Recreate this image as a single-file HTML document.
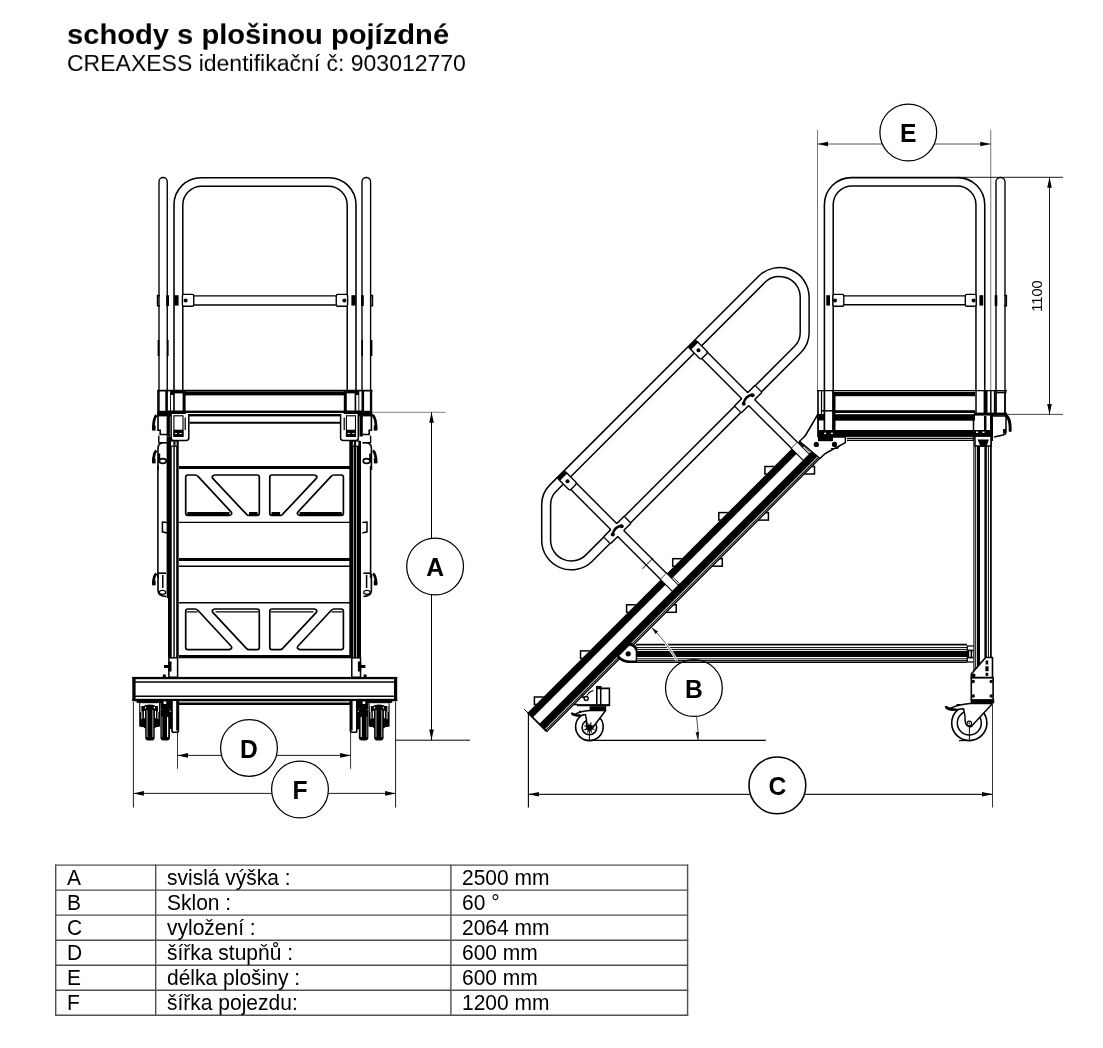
<!DOCTYPE html>
<html lang="cs"><head><meta charset="utf-8"><title>schody s plošinou pojízdné</title>
<style>
html,body{margin:0;padding:0;background:#fff;}
body{width:1103px;height:1048px;position:relative;overflow:hidden;font-family:"Liberation Sans",Arial,sans-serif;color:#000;}
h1{position:absolute;left:66.6px;top:16.8px;margin:0;font-size:29.15px;line-height:34px;font-weight:bold;white-space:nowrap;transform:scaleY(0.94);transform-origin:0 27.1px;}
p.sub{position:absolute;left:66.6px;top:49.6px;margin:0;font-size:23px;line-height:26px;white-space:nowrap;transform:scaleY(0.946);transform-origin:0 21px;}
svg{position:absolute;left:0;top:0;}
h1,p.sub,table,td div,svg{will-change:transform;}
svg text{font-family:"Liberation Sans",Arial,sans-serif;fill:#000;}
table{position:absolute;left:55px;top:864.5px;border-collapse:collapse;font-size:21px;line-height:24px;}
td{border:1px solid transparent;padding:0 0 0 11px;height:24px;white-space:nowrap;vertical-align:top;}
td div{height:23.9px;line-height:23px;overflow:visible;transform:scaleY(1.055);transform-origin:0 19.2px;}
</style></head><body>
<h1>schody s plošinou pojízdné</h1>
<p class="sub">CREAXESS identifikační č: 903012770</p>
<svg width="1103" height="1048" viewBox="0 0 1103 1048">
<g id="front-view">
<path d="M159,414 V181.625 A4.125,4.125 0 0 1 167.25,181.625 V414" fill="none" stroke="#000" stroke-width="1.38" />
<path d="M362.0,414 V181.8 A4.300000000000011,4.300000000000011 0 0 1 370.6,181.8 V414" fill="none" stroke="#000" stroke-width="1.38" />
<path d="M174,414 V204.75 A27,27 0 0 1 201,177.75 H329 A27,27 0 0 1 356,204.75 V414" fill="none" stroke="#000" stroke-width="1.56" />
<path d="M182.8,414 V204.95000000000002 A18.8,18.8 0 0 1 201.60000000000002,186.15 H328.4 A18.8,18.8 0 0 1 347.2,204.95000000000002 V414" fill="none" stroke="#000" stroke-width="1.5" />
<line x1="193.50" y1="295.90" x2="336.50" y2="295.90" stroke="#000" stroke-width="1.38" stroke-linecap="butt"/>
<line x1="193.50" y1="305.00" x2="336.50" y2="305.00" stroke="#000" stroke-width="1.38" stroke-linecap="butt"/>
<rect x="182.40" y="294.40" width="11.35" height="11.90" fill="#fff" stroke="#000" stroke-width="1.38" rx="1.5"/>
<circle cx="185.60" cy="300.40" r="2.00" fill="#000" stroke="#000" stroke-width="0.0"/>
<rect x="174.20" y="295.20" width="4.40" height="10.40" fill="#000"/>
<path d="M159.9,295.6 H157.6 V305.8 H159.9" fill="none" stroke="#000" stroke-width="1.62" />
<rect x="166.20" y="295.20" width="2.80" height="10.80" fill="#000"/>
<rect x="157.60" y="340.00" width="1.80" height="16.00" fill="#000"/>
<rect x="167.00" y="340.00" width="1.60" height="16.00" fill="#000"/>
<rect x="336.25" y="294.40" width="11.35" height="11.90" fill="#fff" stroke="#000" stroke-width="1.38" rx="1.5"/>
<circle cx="344.40" cy="300.40" r="2.00" fill="#000" stroke="#000" stroke-width="0.0"/>
<rect x="351.40" y="295.20" width="4.40" height="10.40" fill="#000"/>
<path d="M370.1,295.6 H372.4 V305.8 H370.1" fill="none" stroke="#000" stroke-width="1.62" />
<rect x="361.00" y="295.20" width="2.80" height="10.80" fill="#000"/>
<rect x="370.60" y="340.00" width="1.80" height="16.00" fill="#000"/>
<rect x="361.40" y="340.00" width="1.60" height="16.00" fill="#000"/>
<line x1="157.50" y1="390.60" x2="372.50" y2="390.60" stroke="#000" stroke-width="1.62" stroke-linecap="butt"/>
<rect x="183.75" y="391.60" width="162.50" height="3.80" fill="#000"/>
<rect x="183.75" y="410.60" width="162.50" height="2.40" fill="#000"/>
<rect x="156.80" y="414.00" width="216.40" height="2.40" fill="#000"/>
<line x1="189.40" y1="422.75" x2="340.60" y2="422.75" stroke="#000" stroke-width="1.88" stroke-linecap="butt"/>
<rect x="165.30" y="390.20" width="20.30" height="24.40" fill="#000"/>
<rect x="167.90" y="391.40" width="2.20" height="19.20" fill="#fff"/>
<rect x="171.00" y="395.00" width="2.20" height="15.60" fill="#fff"/>
<rect x="174.80" y="393.40" width="7.80" height="17.20" fill="#fff"/>
<rect x="157.20" y="390.20" width="1.70" height="24.40" fill="#000"/>
<rect x="157.20" y="410.80" width="28.40" height="3.80" fill="#000"/>
<path d="M171.1,414 V438 Q171.1,440.4 173.6,440.4 H186.3 Q188.8,440.4 188.8,438 V414" fill="#fff" stroke="#000" stroke-width="1.5" />
<rect x="173.90" y="415.80" width="9.10" height="20.60" fill="none" stroke="#000" stroke-width="1.12" rx="0"/>
<rect x="173.50" y="429.70" width="9.90" height="7.10" fill="#000"/>
<rect x="175.00" y="433.00" width="2.00" height="1.00" fill="#fff"/>
<rect x="179.60" y="433.00" width="2.00" height="1.00" fill="#fff"/>
<line x1="185.20" y1="417.50" x2="185.20" y2="430.00" stroke="#000" stroke-width="1.25" stroke-linecap="butt"/>
<rect x="166.60" y="414.00" width="3.30" height="22.50" fill="#000"/>
<path d="M158,415 V430.3 H160.2 V434.5 H167" fill="none" stroke="#000" stroke-width="1.62" />
<path d="M156.4,415.2 Q153.4,418 153.3,429.5" fill="none" stroke="#000" stroke-width="2.75" stroke-linecap="butt"/>
<rect x="152.20" y="425.50" width="3.40" height="5.10" fill="#000"/>
<path d="M158.8,435.8 V442.6 H166.6" fill="none" stroke="#000" stroke-width="1.38" />
<path d="M167,442.8 H163 Q158,443.2 158,448.5 V470" fill="none" stroke="#000" stroke-width="1.62" />
<path d="M156.4,450.6 Q153.4,453.5 153.3,462.5" fill="none" stroke="#000" stroke-width="2.75" />
<rect x="152.20" y="458.50" width="3.40" height="4.90" fill="#000"/>
<rect x="158.00" y="453.50" width="2.20" height="9.00" fill="#000"/>
<ellipse cx="162.80" cy="461.0" rx="3.4" ry="2.4" fill="#fff" stroke="#000" stroke-width="1.6"/>
<line x1="157.90" y1="466.00" x2="157.90" y2="578.00" stroke="#000" stroke-width="1.56" stroke-linecap="butt"/>
<path d="M167,522.6 L162.4,522 V531.8 L167,533" fill="#fff" stroke="#000" stroke-width="1.5" />
<path d="M156.4,573.5 Q153.4,576 153.3,584.5" fill="none" stroke="#000" stroke-width="2.75" />
<rect x="152.20" y="580.50" width="3.40" height="4.90" fill="#000"/>
<path d="M158,574 V591 Q158.5,596 166,596.5" fill="none" stroke="#000" stroke-width="1.62" />
<path d="M158,573.2 H166" fill="none" stroke="#000" stroke-width="1.62" />
<line x1="162.80" y1="575.00" x2="162.80" y2="588.00" stroke="#000" stroke-width="1.5" stroke-linecap="butt"/>
<ellipse cx="162.50" cy="592.3" rx="3.2" ry="2.0" fill="#fff" stroke="#000" stroke-width="1.2"/>
<rect x="168.00" y="436.50" width="3.70" height="221.00" fill="#000"/>
<rect x="166.60" y="436.50" width="1.60" height="161.50" fill="#000"/>
<rect x="173.40" y="446.00" width="1.40" height="211.50" fill="#000"/>
<rect x="176.20" y="441.00" width="2.50" height="216.50" fill="#000"/>
<rect x="170.40" y="441.00" width="3.60" height="5.20" fill="#fff" stroke="#000" stroke-width="1.25" rx="0"/>
<rect x="174.90" y="441.00" width="2.30" height="5.20" fill="#fff" stroke="#000" stroke-width="1.25" rx="0"/>
<rect x="168.90" y="657.80" width="8.70" height="19.50" fill="#fff" stroke="#000" stroke-width="1.5" rx="0"/>
<rect x="168.20" y="661.50" width="3.30" height="10.00" fill="#000"/>
<rect x="164.00" y="665.00" width="4.50" height="3.00" fill="#000"/>
<circle cx="164.30" cy="676.00" r="1.70" fill="#000" stroke="#000" stroke-width="0.0"/>
<rect x="343.80" y="390.20" width="20.30" height="24.40" fill="#000"/>
<rect x="359.30" y="391.40" width="2.20" height="19.20" fill="#fff"/>
<rect x="356.20" y="395.00" width="2.20" height="15.60" fill="#fff"/>
<rect x="346.80" y="393.40" width="7.80" height="17.20" fill="#fff"/>
<rect x="370.50" y="390.20" width="1.70" height="24.40" fill="#000"/>
<rect x="343.80" y="410.80" width="28.40" height="3.80" fill="#000"/>
<path d="M340.59999999999997,414 V438 Q340.59999999999997,440.4 343.09999999999997,440.4 H355.79999999999995 Q358.29999999999995,440.4 358.29999999999995,438 V414" fill="#fff" stroke="#000" stroke-width="1.5" />
<rect x="346.40" y="415.80" width="9.10" height="20.60" fill="none" stroke="#000" stroke-width="1.12" rx="0"/>
<rect x="346.00" y="429.70" width="9.90" height="7.10" fill="#000"/>
<rect x="352.40" y="433.00" width="2.00" height="1.00" fill="#fff"/>
<rect x="347.80" y="433.00" width="2.00" height="1.00" fill="#fff"/>
<line x1="344.20" y1="417.50" x2="344.20" y2="430.00" stroke="#000" stroke-width="1.25" stroke-linecap="butt"/>
<rect x="359.50" y="414.00" width="3.30" height="22.50" fill="#000"/>
<path d="M371.4,415 V430.3 H369.2 V434.5 H362.4" fill="none" stroke="#000" stroke-width="1.62" />
<path d="M373.0,415.2 Q376.0,418 376.09999999999997,429.5" fill="none" stroke="#000" stroke-width="2.75" stroke-linecap="butt"/>
<rect x="373.80" y="425.50" width="3.40" height="5.10" fill="#000"/>
<path d="M370.59999999999997,435.8 V442.6 H362.79999999999995" fill="none" stroke="#000" stroke-width="1.38" />
<path d="M362.4,442.8 H366.4 Q371.4,443.2 371.4,448.5 V470" fill="none" stroke="#000" stroke-width="1.62" />
<path d="M373.0,450.6 Q376.0,453.5 376.09999999999997,462.5" fill="none" stroke="#000" stroke-width="2.75" />
<rect x="373.80" y="458.50" width="3.40" height="4.90" fill="#000"/>
<rect x="369.20" y="453.50" width="2.20" height="9.00" fill="#000"/>
<ellipse cx="366.60" cy="461.0" rx="3.4" ry="2.4" fill="#fff" stroke="#000" stroke-width="1.6"/>
<line x1="370.60" y1="466.00" x2="370.60" y2="578.00" stroke="#000" stroke-width="1.56" stroke-linecap="butt"/>
<path d="M362.4,522.6 L367.0,522 V531.8 L362.4,533" fill="#fff" stroke="#000" stroke-width="1.5" />
<path d="M373.0,573.5 Q376.0,576 376.09999999999997,584.5" fill="none" stroke="#000" stroke-width="2.75" />
<rect x="373.80" y="580.50" width="3.40" height="4.90" fill="#000"/>
<path d="M371.4,574 V591 Q370.9,596 363.4,596.5" fill="none" stroke="#000" stroke-width="1.62" />
<path d="M371.4,573.2 H363.4" fill="none" stroke="#000" stroke-width="1.62" />
<line x1="366.60" y1="575.00" x2="366.60" y2="588.00" stroke="#000" stroke-width="1.5" stroke-linecap="butt"/>
<ellipse cx="366.90" cy="592.3" rx="3.2" ry="2.0" fill="#fff" stroke="#000" stroke-width="1.2"/>
<rect x="349.30" y="441.00" width="11.70" height="216.50" fill="#000"/>
<rect x="353.0" y="446" width="0.9" height="211.5" fill="#aaa"/>
<rect x="356.0" y="446" width="1.0" height="211.5" fill="#aaa"/>
<rect x="355.40" y="441.00" width="3.60" height="5.20" fill="#fff" stroke="#000" stroke-width="1.25" rx="0"/>
<rect x="352.20" y="441.00" width="2.30" height="5.20" fill="#fff" stroke="#000" stroke-width="1.25" rx="0"/>
<rect x="351.80" y="657.80" width="8.70" height="19.50" fill="#fff" stroke="#000" stroke-width="1.5" rx="0"/>
<rect x="357.90" y="661.50" width="3.30" height="10.00" fill="#000"/>
<rect x="360.90" y="665.00" width="4.50" height="3.00" fill="#000"/>
<circle cx="365.10" cy="676.00" r="1.70" fill="#000" stroke="#000" stroke-width="0.0"/>
<line x1="178.90" y1="467.60" x2="351.10" y2="467.60" stroke="#000" stroke-width="3.0" stroke-linecap="butt"/>
<line x1="178.90" y1="522.40" x2="351.10" y2="522.40" stroke="#000" stroke-width="1.38" stroke-linecap="butt"/>
<path d="M185.7,477.2 Q185.7,475.0 187.89999999999998,475.0 H195.1 Q196.79999999999998,475.0 197.79999999999998,476.2 L231.0,511.79999999999995 Q233.1,514.4 229.4,515.4 H187.89999999999998 Q185.7,515.4 185.7,513.1999999999999 Z" fill="none" stroke="#000" stroke-width="1.69" stroke-linejoin="round"/>
<path d="M259.3,513.1999999999999 Q259.3,515.4 257.1,515.4 H249.1 Q247.4,515.4 246.4,514.1999999999999 L213.0,478.6 Q210.9,476.0 214.6,475.0 H257.1 Q259.3,475.0 259.3,477.2 Z" fill="none" stroke="#000" stroke-width="1.69" stroke-linejoin="round"/>
<rect x="187.30" y="512.00" width="42.20" height="4.00" fill="#000"/>
<rect x="249.00" y="512.00" width="8.60" height="4.00" fill="#000"/>
<path d="M343.40000000000003,477.2 Q343.40000000000003,475.0 341.20000000000005,475.0 H334.0 Q332.3,475.0 331.3,476.2 L298.1,511.79999999999995 Q296.0,514.4 299.7,515.4 H341.20000000000005 Q343.40000000000003,515.4 343.40000000000003,513.1999999999999 Z" fill="none" stroke="#000" stroke-width="1.69" stroke-linejoin="round"/>
<path d="M269.8,513.1999999999999 Q269.8,515.4 272.0,515.4 H280.0 Q281.7,515.4 282.7,514.1999999999999 L316.1,478.6 Q318.20000000000005,476.0 314.50000000000006,475.0 H272.0 Q269.8,475.0 269.8,477.2 Z" fill="none" stroke="#000" stroke-width="1.69" stroke-linejoin="round"/>
<rect x="299.60" y="512.00" width="42.20" height="4.00" fill="#000"/>
<rect x="271.50" y="512.00" width="8.60" height="4.00" fill="#000"/>
<line x1="178.90" y1="559.40" x2="351.10" y2="559.40" stroke="#000" stroke-width="3.0" stroke-linecap="butt"/>
<line x1="178.90" y1="566.20" x2="351.10" y2="566.20" stroke="#000" stroke-width="1.38" stroke-linecap="butt"/>
<line x1="178.90" y1="602.80" x2="351.10" y2="602.80" stroke="#000" stroke-width="1.38" stroke-linecap="butt"/>
<line x1="178.90" y1="656.60" x2="351.10" y2="656.60" stroke="#000" stroke-width="3.25" stroke-linecap="butt"/>
<path d="M185.7,611.2 Q185.7,609.0 187.89999999999998,609.0 H195.1 Q196.79999999999998,609.0 197.79999999999998,610.2 L231.0,646.0 Q233.1,648.6 229.4,649.6 H187.89999999999998 Q185.7,649.6 185.7,647.4 Z" fill="none" stroke="#000" stroke-width="1.69" stroke-linejoin="round"/>
<path d="M259.3,647.4 Q259.3,649.6 257.1,649.6 H249.1 Q247.4,649.6 246.4,648.4 L213.0,612.6 Q210.9,610.0 214.6,609.0 H257.1 Q259.3,609.0 259.3,611.2 Z" fill="none" stroke="#000" stroke-width="1.69" stroke-linejoin="round"/>
<line x1="186.60" y1="611.90" x2="197.60" y2="611.90" stroke="#000" stroke-width="1.25" stroke-linecap="butt"/>
<line x1="215.60" y1="611.90" x2="258.60" y2="611.90" stroke="#000" stroke-width="1.25" stroke-linecap="butt"/>
<path d="M343.40000000000003,611.2 Q343.40000000000003,609.0 341.20000000000005,609.0 H334.0 Q332.3,609.0 331.3,610.2 L298.1,646.0 Q296.0,648.6 299.7,649.6 H341.20000000000005 Q343.40000000000003,649.6 343.40000000000003,647.4 Z" fill="none" stroke="#000" stroke-width="1.69" stroke-linejoin="round"/>
<path d="M269.8,647.4 Q269.8,649.6 272.0,649.6 H280.0 Q281.7,649.6 282.7,648.4 L316.1,612.6 Q318.20000000000005,610.0 314.50000000000006,609.0 H272.0 Q269.8,609.0 269.8,611.2 Z" fill="none" stroke="#000" stroke-width="1.69" stroke-linejoin="round"/>
<line x1="331.50" y1="611.90" x2="342.50" y2="611.90" stroke="#000" stroke-width="1.25" stroke-linecap="butt"/>
<line x1="270.50" y1="611.90" x2="313.50" y2="611.90" stroke="#000" stroke-width="1.25" stroke-linecap="butt"/>
<rect x="132.30" y="676.90" width="264.90" height="2.30" fill="#000"/>
<line x1="134.00" y1="682.00" x2="396.00" y2="682.00" stroke="#000" stroke-width="1.38" stroke-linecap="butt"/>
<line x1="134.00" y1="696.30" x2="396.00" y2="696.30" stroke="#000" stroke-width="1.38" stroke-linecap="butt"/>
<rect x="132.30" y="698.80" width="264.90" height="2.50" fill="#000"/>
<rect x="132.30" y="677.00" width="3.30" height="24.00" fill="#000"/>
<rect x="394.00" y="677.00" width="3.20" height="24.00" fill="#000"/>
<line x1="177.00" y1="703.80" x2="352.80" y2="703.80" stroke="#000" stroke-width="2.5" stroke-linecap="butt"/>
<path d="M172.0,701 V730.4 Q172.0,732.2 173.5,732.2 H176.9 Q178.4,732.2 178.4,730.4 V701" fill="#fff" stroke="#000" stroke-width="1.62" />
<rect x="176.20" y="701.00" width="2.70" height="29.50" fill="#000" rx="0"/>
<rect x="136.60" y="701.00" width="35.40" height="1.90" fill="#000" rx="0"/>
<rect x="139.20" y="702.50" width="21.00" height="24.00" fill="#000" rx="0"/>
<rect x="140.40" y="703.20" width="18.60" height="2.80" fill="#fff" rx="0"/>
<path d="M140.60,727 V712 Q140.60,704.4 149.80,704.4 Q159.00,704.4 159.00,712 V727 Z" fill="#000"/>
<rect x="140.40" y="703.20" width="1.00" height="8.80" fill="#fff" rx="0"/>
<rect x="158.00" y="703.20" width="1.00" height="8.80" fill="#fff" rx="0"/>
<rect x="143.90" y="710.80" width="1.10" height="7.40" fill="#fff" rx="0"/>
<rect x="154.90" y="710.80" width="1.10" height="7.40" fill="#fff" rx="0"/>
<rect x="141.30" y="711.50" width="1.00" height="8.00" fill="#ddd" rx="0"/>
<rect x="157.40" y="711.50" width="1.00" height="8.00" fill="#ddd" rx="0"/>
<rect x="145.00" y="706.90" width="1.10" height="1.70" fill="#fff" rx="0"/>
<rect x="153.80" y="706.90" width="1.20" height="1.70" fill="#fff" rx="0"/>
<path d="M140.20,719 L141.20,725.5 L145.20,728.6 H154.40 L158.40,725.5 L159.40,719 Z" fill="#000"/>
<rect x="145.20" y="707.50" width="9.50" height="33.10" fill="#000" rx="3.4"/>
<rect x="146.40" y="710.00" width="1.40" height="27.00" fill="#777" rx="0"/>
<rect x="152.10" y="710.00" width="1.40" height="27.00" fill="#777" rx="0"/>
<rect x="160.40" y="700.50" width="11.60" height="11.00" fill="#000" rx="0"/>
<rect x="163.60" y="701.40" width="2.60" height="2.60" fill="#fff" rx="0"/>
<rect x="160.60" y="709.00" width="0.80" height="1.00" fill="#aaa" rx="0"/>
<rect x="161.00" y="709.60" width="9.60" height="0.80" fill="#777" rx="0"/>
<rect x="168.00" y="711.20" width="2.60" height="1.40" fill="#fff" rx="0"/>
<rect x="160.40" y="709.00" width="9.60" height="31.50" fill="#000" rx="3.2"/>
<rect x="169.50" y="712.00" width="2.70" height="17.00" fill="#000" rx="0"/>
<rect x="161.40" y="716.50" width="1.20" height="20.50" fill="#666" rx="0"/>
<rect x="167.00" y="717.00" width="1.20" height="20.00" fill="#fff" rx="0"/>
<path d="M350.4,701 V730.4 Q350.4,732.2 351.9,732.2 H355.29999999999995 Q356.79999999999995,732.2 356.79999999999995,730.4 V701" fill="#fff" stroke="#000" stroke-width="1.62" />
<rect x="349.90" y="701.00" width="2.70" height="29.50" fill="#000" rx="0"/>
<rect x="356.80" y="701.00" width="35.40" height="1.90" fill="#000" rx="0"/>
<rect x="368.60" y="702.50" width="21.00" height="24.00" fill="#000" rx="0"/>
<rect x="369.80" y="703.20" width="18.60" height="2.80" fill="#fff" rx="0"/>
<path d="M369.80,727 V712 Q369.80,704.4 379.00,704.4 Q388.20,704.4 388.20,712 V727 Z" fill="#000"/>
<rect x="387.40" y="703.20" width="1.00" height="8.80" fill="#fff" rx="0"/>
<rect x="369.80" y="703.20" width="1.00" height="8.80" fill="#fff" rx="0"/>
<rect x="383.80" y="710.80" width="1.10" height="7.40" fill="#fff" rx="0"/>
<rect x="372.80" y="710.80" width="1.10" height="7.40" fill="#fff" rx="0"/>
<rect x="386.50" y="711.50" width="1.00" height="8.00" fill="#ddd" rx="0"/>
<rect x="370.40" y="711.50" width="1.00" height="8.00" fill="#ddd" rx="0"/>
<rect x="382.70" y="706.90" width="1.10" height="1.70" fill="#fff" rx="0"/>
<rect x="373.80" y="706.90" width="1.20" height="1.70" fill="#fff" rx="0"/>
<path d="M369.40,719 L370.40,725.5 L374.40,728.6 H383.60 L387.60,725.5 L388.60,719 Z" fill="#000"/>
<rect x="374.10" y="707.50" width="9.50" height="33.10" fill="#000" rx="3.4"/>
<rect x="381.00" y="710.00" width="1.40" height="27.00" fill="#777" rx="0"/>
<rect x="375.30" y="710.00" width="1.40" height="27.00" fill="#777" rx="0"/>
<rect x="356.80" y="700.50" width="11.60" height="11.00" fill="#000" rx="0"/>
<rect x="362.60" y="701.40" width="2.60" height="2.60" fill="#fff" rx="0"/>
<rect x="367.40" y="709.00" width="0.80" height="1.00" fill="#aaa" rx="0"/>
<rect x="358.20" y="709.60" width="9.60" height="0.80" fill="#777" rx="0"/>
<rect x="358.20" y="711.20" width="2.60" height="1.40" fill="#fff" rx="0"/>
<rect x="358.80" y="709.00" width="9.60" height="31.50" fill="#000" rx="3.2"/>
<rect x="356.60" y="712.00" width="2.70" height="17.00" fill="#000" rx="0"/>
<rect x="366.20" y="716.50" width="1.20" height="20.50" fill="#666" rx="0"/>
<rect x="360.60" y="717.00" width="1.20" height="20.00" fill="#fff" rx="0"/>
<line x1="372.00" y1="412.30" x2="445.80" y2="412.30" stroke="#777" stroke-width="0.9" stroke-linecap="butt"/>
<line x1="431.50" y1="412.30" x2="431.50" y2="740.10" stroke="#000" stroke-width="1.0" stroke-linecap="butt"/>
<polygon points="431.50,412.30 433.80,422.80 429.20,422.80" fill="#000"/>
<polygon points="431.50,740.10 429.20,729.60 433.80,729.60" fill="#000"/>
<line x1="395.50" y1="740.20" x2="470.00" y2="740.20" stroke="#000" stroke-width="1.0" stroke-linecap="butt"/>
<circle cx="435.10" cy="566.50" r="28.40" fill="#fff" stroke="#000" stroke-width="1.25"/>
<text transform="translate(435.10,576.30) scale(0.98,1.02)" font-size="25.2" font-weight="bold" text-anchor="middle">A</text>
<line x1="177.50" y1="733.00" x2="177.50" y2="768.80" stroke="#000" stroke-width="0.8" stroke-linecap="butt"/>
<line x1="350.60" y1="733.00" x2="350.60" y2="768.80" stroke="#000" stroke-width="0.8" stroke-linecap="butt"/>
<line x1="177.50" y1="755.40" x2="350.60" y2="755.40" stroke="#000" stroke-width="0.9" stroke-linecap="butt"/>
<polygon points="177.50,755.40 188.00,753.10 188.00,757.70" fill="#000"/>
<polygon points="350.60,755.40 340.10,757.70 340.10,753.10" fill="#000"/>
<circle cx="249.00" cy="747.90" r="28.40" fill="#fff" stroke="#000" stroke-width="1.25"/>
<text transform="translate(249.00,757.70) scale(0.98,1.02)" font-size="25.2" font-weight="bold" text-anchor="middle">D</text>
<line x1="133.40" y1="702.00" x2="133.40" y2="807.50" stroke="#000" stroke-width="0.9" stroke-linecap="butt"/>
<line x1="395.60" y1="702.00" x2="395.60" y2="807.50" stroke="#000" stroke-width="0.9" stroke-linecap="butt"/>
<line x1="133.40" y1="793.40" x2="395.60" y2="793.40" stroke="#000" stroke-width="0.9" stroke-linecap="butt"/>
<polygon points="133.40,793.40 143.90,791.10 143.90,795.70" fill="#000"/>
<polygon points="395.60,793.40 385.10,795.70 385.10,791.10" fill="#000"/>
<circle cx="300.00" cy="789.50" r="28.40" fill="#fff" stroke="#000" stroke-width="1.25"/>
<text transform="translate(300.00,799.30) scale(0.98,1.02)" font-size="25.2" font-weight="bold" text-anchor="middle">F</text>
</g>
<g id="side-view">
<line x1="817.50" y1="130.00" x2="817.50" y2="390.00" stroke="#666" stroke-width="0.9" stroke-linecap="butt"/>
<line x1="990.75" y1="130.00" x2="990.75" y2="390.00" stroke="#666" stroke-width="0.9" stroke-linecap="butt"/>
<line x1="817.50" y1="144.00" x2="990.75" y2="144.00" stroke="#444" stroke-width="0.9" stroke-linecap="butt"/>
<polygon points="817.50,144.00 828.00,141.70 828.00,146.30" fill="#000"/>
<polygon points="990.75,144.00 980.25,146.30 980.25,141.70" fill="#000"/>
<circle cx="908.30" cy="132.50" r="28.40" fill="#fff" stroke="#000" stroke-width="1.25"/>
<text transform="translate(908.30,142.30) scale(0.98,1.02)" font-size="25.2" font-weight="bold" text-anchor="middle">E</text>
<line x1="958.00" y1="177.30" x2="1063.00" y2="177.30" stroke="#000" stroke-width="0.9" stroke-linecap="butt"/>
<line x1="1006.00" y1="414.40" x2="1063.00" y2="414.40" stroke="#333" stroke-width="0.9" stroke-linecap="butt"/>
<line x1="1049.50" y1="177.30" x2="1049.50" y2="414.40" stroke="#000" stroke-width="0.9" stroke-linecap="butt"/>
<polygon points="1049.50,177.30 1051.80,187.80 1047.20,187.80" fill="#000"/>
<polygon points="1049.50,414.40 1047.20,403.90 1051.80,403.90" fill="#000"/>
<text transform="translate(1042.3,296) rotate(-90)" font-size="14.6" text-anchor="middle">1100</text>
<path d="M996,414 V182.0 A4.5,4.5 0 0 1 1005,182.0 V414" fill="none" stroke="#000" stroke-width="1.38" />
<rect x="994.70" y="295.20" width="2.60" height="10.80" fill="#000"/>
<path d="M1004.2,295.6 H1006.3 V305.8 H1004.2" fill="none" stroke="#000" stroke-width="1.62" />
<path d="M824.4,414 V204.6 A27,27 0 0 1 851.4,177.6 H957.75 A27,27 0 0 1 984.75,204.6 V414" fill="none" stroke="#000" stroke-width="1.56" />
<path d="M833.1999999999999,414 V204.8 A18.8,18.8 0 0 1 851.9999999999999,186.0 H957.1500000000001 A18.8,18.8 0 0 1 975.95,204.8 V414" fill="none" stroke="#000" stroke-width="1.5" />
<line x1="843.50" y1="295.90" x2="965.50" y2="295.90" stroke="#000" stroke-width="1.38" stroke-linecap="butt"/>
<line x1="843.50" y1="304.80" x2="965.50" y2="304.80" stroke="#000" stroke-width="1.38" stroke-linecap="butt"/>
<rect x="832.90" y="294.40" width="10.90" height="11.90" fill="#fff" stroke="#000" stroke-width="1.38" rx="1.5"/>
<circle cx="835.00" cy="300.40" r="2.00" fill="#000" stroke="#000" stroke-width="0.0"/>
<rect x="965.30" y="294.40" width="10.90" height="11.90" fill="#fff" stroke="#000" stroke-width="1.38" rx="1.5"/>
<circle cx="973.60" cy="300.40" r="2.00" fill="#000" stroke="#000" stroke-width="0.0"/>
<rect x="826.30" y="295.20" width="3.70" height="10.40" fill="#000"/>
<rect x="979.40" y="295.20" width="3.80" height="10.40" fill="#000"/>
<rect x="534.40" y="697.00" width="49.60" height="7.50" fill="#fff" stroke="#000" stroke-width="1.5" rx="0"/>
<rect x="580.50" y="650.90" width="49.60" height="7.50" fill="#fff" stroke="#000" stroke-width="1.5" rx="0"/>
<rect x="626.60" y="604.80" width="49.60" height="7.50" fill="#fff" stroke="#000" stroke-width="1.5" rx="0"/>
<rect x="672.70" y="558.70" width="49.60" height="7.50" fill="#fff" stroke="#000" stroke-width="1.5" rx="0"/>
<rect x="718.80" y="512.60" width="49.60" height="7.50" fill="#fff" stroke="#000" stroke-width="1.5" rx="0"/>
<rect x="764.90" y="466.50" width="49.60" height="7.50" fill="#fff" stroke="#000" stroke-width="1.5" rx="0"/>
<circle cx="693.90" cy="688.00" r="28.40" fill="#fff" stroke="#000" stroke-width="1.25"/>
<text transform="translate(693.90,697.80) scale(0.98,1.02)" font-size="25.2" font-weight="bold" text-anchor="middle">B</text>
<line x1="636.00" y1="644.70" x2="967.00" y2="644.70" stroke="#000" stroke-width="1.75" stroke-linecap="butt"/>
<line x1="636.00" y1="647.60" x2="967.00" y2="647.60" stroke="#000" stroke-width="1.0" stroke-linecap="butt"/>
<line x1="636.00" y1="649.60" x2="967.00" y2="649.60" stroke="#000" stroke-width="1.0" stroke-linecap="butt"/>
<rect x="636.00" y="651.00" width="331.00" height="6.00" fill="#000"/>
<line x1="636.00" y1="658.80" x2="967.00" y2="658.80" stroke="#000" stroke-width="1.0" stroke-linecap="butt"/>
<line x1="636.00" y1="660.60" x2="967.00" y2="660.60" stroke="#000" stroke-width="1.0" stroke-linecap="butt"/>
<line x1="636.00" y1="662.20" x2="967.00" y2="662.20" stroke="#000" stroke-width="1.5" stroke-linecap="butt"/>
<rect x="967.30" y="646.00" width="9.20" height="16.00" fill="#fff" stroke="#000" stroke-width="1.25" rx="0"/>
<rect x="967.30" y="649.60" width="9.70" height="8.80" fill="#000"/>
<rect x="969.20" y="651.20" width="1.40" height="5.60" fill="#fff"/>
<rect x="972.20" y="651.20" width="1.40" height="5.60" fill="#fff"/>
<rect x="975.00" y="652.00" width="1.00" height="4.00" fill="#fff"/>
<rect x="973.50" y="441.00" width="17.80" height="216.50" fill="#fff"/>
<rect x="973.50" y="657.00" width="7.50" height="14.00" fill="#fff"/>
<line x1="973.90" y1="441.00" x2="973.90" y2="671.00" stroke="#000" stroke-width="1.12" stroke-linecap="butt"/>
<line x1="975.70" y1="441.00" x2="975.70" y2="671.00" stroke="#000" stroke-width="1.0" stroke-linecap="butt"/>
<rect x="977.00" y="441.00" width="3.00" height="230.00" fill="#000"/>
<rect x="984.40" y="441.00" width="2.40" height="216.50" fill="#000"/>
<line x1="988.40" y1="441.00" x2="988.40" y2="657.50" stroke="#000" stroke-width="1.0" stroke-linecap="butt"/>
<line x1="990.90" y1="441.00" x2="990.90" y2="657.50" stroke="#000" stroke-width="1.75" stroke-linecap="butt"/>
<path d="M985.6,657.5 H992.5 V677.5 H971.3 V674 Z" fill="#fff" stroke="#000" stroke-width="1.62" stroke-linejoin="round"/>
<rect x="985.60" y="660.50" width="2.60" height="4.00" fill="#000"/>
<rect x="985.30" y="666.30" width="3.30" height="4.90" fill="#000"/>
<rect x="985.60" y="672.80" width="2.60" height="3.20" fill="#000"/>
<rect x="971.30" y="677.80" width="21.80" height="22.20" fill="#fff" stroke="#000" stroke-width="1.62" rx="0"/>
<circle cx="973.20" cy="681.50" r="1.70" fill="#000" stroke="#000" stroke-width="0.0"/>
<circle cx="991.20" cy="681.50" r="1.70" fill="#000" stroke="#000" stroke-width="0.0"/>
<circle cx="973.20" cy="696.00" r="1.70" fill="#000" stroke="#000" stroke-width="0.0"/>
<circle cx="991.20" cy="696.00" r="1.70" fill="#000" stroke="#000" stroke-width="0.0"/>
<circle cx="973.60" cy="675.30" r="1.90" fill="#000" stroke="#000" stroke-width="0.0"/>
<rect x="970.60" y="699.60" width="23.60" height="3.60" fill="#000"/>
<circle cx="969.30" cy="723.00" r="17.60" fill="#fff" stroke="#000" stroke-width="1.62"/>
<circle cx="969.30" cy="723.00" r="12.00" fill="none" stroke="#000" stroke-width="1.5"/>
<path d="M945.6,706.8 Q949,710.6 957,709.6 L963.5,708.8 Q965.5,716 965.2,721.5 Q966,727 971,726.8 L992.6,703.4 L970,703.6 Q958,704.5 950,708.5 Z" fill="#fff" stroke="#000" stroke-width="1.5" stroke-linejoin="round"/>
<path d="M945.8,706.8 Q949,710.4 956,709.4" fill="none" stroke="#000" stroke-width="2.5" />
<circle cx="969.30" cy="723.40" r="2.30" fill="#fff" stroke="#000" stroke-width="1.12"/>
<circle cx="969.30" cy="723.40" r="0.80" fill="#000" stroke="#000" stroke-width="0.0"/>
<line x1="969.40" y1="726.00" x2="969.40" y2="740.60" stroke="#000" stroke-width="1.0" stroke-linecap="butt"/>
<line x1="959.00" y1="740.60" x2="971.00" y2="740.60" stroke="#000" stroke-width="1.12" stroke-linecap="butt"/>
<rect x="956.50" y="704.00" width="3.50" height="2.00" fill="#000"/>
<rect x="817.50" y="390.00" width="174.50" height="51.00" fill="#fff"/>
<line x1="817.00" y1="390.60" x2="1007.00" y2="390.60" stroke="#000" stroke-width="1.38" stroke-linecap="butt"/>
<rect x="833.80" y="391.90" width="141.20" height="4.30" fill="#000"/>
<rect x="833.80" y="410.20" width="141.20" height="2.80" fill="#000"/>
<rect x="833.80" y="414.20" width="141.20" height="6.50" fill="#000"/>
<rect x="817.80" y="430.00" width="157.20" height="6.90" fill="#000"/>
<line x1="847.00" y1="438.40" x2="974.00" y2="438.40" stroke="#000" stroke-width="1.12" stroke-linecap="butt"/>
<line x1="847.00" y1="440.40" x2="974.00" y2="440.40" stroke="#000" stroke-width="1.25" stroke-linecap="butt"/>
<line x1="818.00" y1="390.00" x2="818.00" y2="437.00" stroke="#000" stroke-width="1.62" stroke-linecap="butt"/>
<line x1="821.50" y1="391.00" x2="821.50" y2="414.00" stroke="#000" stroke-width="1.25" stroke-linecap="butt"/>
<line x1="824.40" y1="390.00" x2="824.40" y2="430.00" stroke="#000" stroke-width="1.75" stroke-linecap="butt"/>
<line x1="833.10" y1="390.00" x2="833.10" y2="430.00" stroke="#000" stroke-width="2.0" stroke-linecap="butt"/>
<rect x="817.80" y="414.00" width="6.70" height="6.50" fill="#000"/>
<rect x="833.00" y="396.00" width="2.50" height="34.00" fill="#000"/>
<line x1="821.00" y1="410.80" x2="834.00" y2="410.80" stroke="#000" stroke-width="1.5" stroke-linecap="butt"/>
<rect x="818.00" y="437.00" width="15.00" height="4.20" fill="#000"/>
<line x1="976.00" y1="390.00" x2="976.00" y2="414.00" stroke="#000" stroke-width="1.5" stroke-linecap="butt"/>
<line x1="984.60" y1="390.00" x2="984.60" y2="414.00" stroke="#000" stroke-width="2.0" stroke-linecap="butt"/>
<line x1="990.80" y1="390.00" x2="990.80" y2="441.00" stroke="#000" stroke-width="1.5" stroke-linecap="butt"/>
<line x1="994.50" y1="390.00" x2="994.50" y2="414.00" stroke="#000" stroke-width="1.25" stroke-linecap="butt"/>
<line x1="996.00" y1="390.00" x2="996.00" y2="414.00" stroke="#000" stroke-width="1.25" stroke-linecap="butt"/>
<line x1="1005.00" y1="390.00" x2="1005.00" y2="414.00" stroke="#000" stroke-width="1.5" stroke-linecap="butt"/>
<rect x="984.00" y="391.00" width="3.50" height="23.00" fill="#000"/>
<line x1="996.00" y1="392.50" x2="1006.50" y2="392.50" stroke="#000" stroke-width="1.75" stroke-linecap="butt"/>
<rect x="974.00" y="412.60" width="33.00" height="3.00" fill="#000"/>
<line x1="973.50" y1="414.00" x2="973.50" y2="441.00" stroke="#000" stroke-width="1.5" stroke-linecap="butt"/>
<line x1="985.20" y1="416.00" x2="985.20" y2="430.00" stroke="#000" stroke-width="2.5" stroke-linecap="butt"/>
<rect x="990.20" y="414.00" width="2.80" height="27.00" fill="#000"/>
<rect x="974.00" y="430.00" width="18.00" height="6.90" fill="#000"/>
<rect x="976.00" y="431.50" width="2.00" height="1.50" fill="#fff"/>
<rect x="982.50" y="431.50" width="2.00" height="1.50" fill="#fff"/>
<path d="M975,437 V446 H991 V437" fill="#fff" stroke="#000" stroke-width="1.5" />
<path d="M978.5,440 L981,446 H986 L988,440 Z" fill="#000" stroke="#000" stroke-width="1.25" />
<path d="M993,416 H1006 V432 Q1006,434.5 1003,435 L994,437" fill="none" stroke="#000" stroke-width="1.5" />
<path d="M1006.8,416 Q1010.5,420 1010.2,430.5" fill="none" stroke="#000" stroke-width="3.0" stroke-linecap="round"/>
<rect x="1003.00" y="429.00" width="3.00" height="4.50" fill="#000"/>
<polygon points="527.80,712.60 800.45,439.95 819.45,458.95 546.80,731.60" fill="#fff" stroke="none" stroke-width="0"/>
<polygon points="527.80,712.60 800.45,439.95 805.45,444.95 532.80,717.60" fill="#000" stroke="none" stroke-width="0"/>
<polygon points="539.20,724.00 811.85,451.35 817.25,456.75 544.60,729.40" fill="#000" stroke="none" stroke-width="0"/>
<line x1="545.60" y1="730.40" x2="818.25" y2="457.75" stroke="#000" stroke-width="1.12" stroke-linecap="butt"/>
<line x1="546.70" y1="731.50" x2="819.35" y2="458.85" stroke="#000" stroke-width="1.38" stroke-linecap="butt"/>
<line x1="527.80" y1="712.60" x2="546.80" y2="731.60" stroke="#000" stroke-width="1.75" stroke-linecap="butt"/>
<line x1="524.20" y1="709.20" x2="528.80" y2="713.60" stroke="#000" stroke-width="1.0" stroke-linecap="butt"/>
<polygon points="660.10,579.10 666.30,572.90 678.60,585.20 672.40,591.40" fill="#fff" stroke="#000" stroke-width="1.1"/>
<polygon points="671.90,578.50 673.10,577.30 679.40,583.60 678.20,584.80" fill="#fff" stroke="#000" stroke-width="0.9"/>
<polygon points="791.05,448.15 797.25,441.95 809.55,454.25 803.35,460.45" fill="#fff" stroke="#000" stroke-width="1.1"/>
<polygon points="802.85,447.55 804.05,446.35 810.35,452.65 809.15,453.85" fill="#fff" stroke="#000" stroke-width="0.9"/>
<path d="M817.8,414.5 L806,434.5 Q804.5,437 802,439 L799.5,441.2 L820,458.5 L823,455.5 Q825,453.5 828,452 L845.4,442.6 V437 H818 Z" fill="#fff" stroke="#000" stroke-width="1.5" stroke-linejoin="round"/>
<circle cx="816.30" cy="444.40" r="2.60" fill="#000" stroke="#000" stroke-width="0.0"/>
<circle cx="834.50" cy="444.40" r="2.60" fill="#000" stroke="#000" stroke-width="0.0"/>
<path d="M831,448.5 L838,448.5 L840,445" fill="none" stroke="#000" stroke-width="1.0" />
<rect x="818.00" y="437.00" width="15.00" height="4.20" fill="#000"/>
<rect x="817.80" y="430.00" width="30.20" height="6.90" fill="#000"/>
<rect x="824.20" y="432.70" width="1.80" height="1.40" fill="#fff"/>
<rect x="831.00" y="432.70" width="1.80" height="1.40" fill="#fff"/>
<path d="M549.90,484.90 L758.57,276.23 A29.60,29.60 0 0 1 809.10,297.16 L809.10,332.70 A28.00,28.00 0 0 1 800.90,352.50 L592.23,561.17 A29.60,29.60 0 0 1 541.70,540.24 L541.70,504.70 A28.00,28.00 0 0 1 549.90,484.90 Z" fill="none" stroke="#000" stroke-width="1.5" />
<path d="M556.19,491.19 L764.86,282.52 A20.70,20.70 0 0 1 800.20,297.16 L800.20,332.70 A19.10,19.10 0 0 1 794.61,346.21 L585.94,554.88 A20.70,20.70 0 0 1 550.60,540.24 L550.60,504.70 A19.10,19.10 0 0 1 556.19,491.19 Z" fill="none" stroke="#000" stroke-width="1.5" />
<polygon points="568.00,486.80 574.00,480.80 666.20,573.00 660.20,579.00" fill="#fff" stroke="none" stroke-width="0"/>
<line x1="568.00" y1="486.80" x2="660.20" y2="579.00" stroke="#000" stroke-width="1.44" stroke-linecap="butt"/>
<line x1="574.00" y1="480.80" x2="666.20" y2="573.00" stroke="#000" stroke-width="1.44" stroke-linecap="butt"/>
<polygon points="603.55,536.95 624.15,516.35 631.05,523.25 610.45,543.85" fill="#fff" stroke="none" stroke-width="0"/>
<line x1="603.50" y1="536.90" x2="610.40" y2="530.00" stroke="#000" stroke-width="1.44" stroke-linecap="butt"/>
<line x1="610.40" y1="543.80" x2="617.30" y2="536.90" stroke="#000" stroke-width="1.44" stroke-linecap="butt"/>
<line x1="617.20" y1="523.20" x2="624.10" y2="516.30" stroke="#000" stroke-width="1.44" stroke-linecap="butt"/>
<line x1="624.10" y1="530.10" x2="631.00" y2="523.20" stroke="#000" stroke-width="1.44" stroke-linecap="butt"/>
<line x1="603.50" y1="536.90" x2="610.40" y2="543.80" stroke="#000" stroke-width="1.25" stroke-linecap="butt"/>
<line x1="624.10" y1="516.30" x2="631.00" y2="523.20" stroke="#000" stroke-width="1.25" stroke-linecap="butt"/>
<line x1="609.70" y1="529.10" x2="610.80" y2="530.20" stroke="#000" stroke-width="1.44" stroke-linecap="butt"/>
<line x1="616.30" y1="522.50" x2="617.40" y2="523.60" stroke="#000" stroke-width="1.44" stroke-linecap="butt"/>
<line x1="617.10" y1="536.50" x2="618.20" y2="537.60" stroke="#000" stroke-width="1.44" stroke-linecap="butt"/>
<line x1="623.70" y1="529.90" x2="624.80" y2="531.00" stroke="#000" stroke-width="1.44" stroke-linecap="butt"/>
<path d="M612.70,533.90 Q614.50,527.10 620.70,525.70" fill="none" stroke="#000" stroke-width="2.5" stroke-linecap="round"/>
<circle cx="612.80" cy="534.60" r="2.00" fill="#000" stroke="#000" stroke-width="0.0"/>
<circle cx="621.70" cy="526.30" r="2.00" fill="#000" stroke="#000" stroke-width="0.0"/>
<rect x="-5.16" y="-8.41" width="10.32" height="16.83" rx="2.2" fill="#fff" stroke="#000" stroke-width="1.38" transform="translate(567.50,481.00) rotate(-45)"/>
<polygon points="557.00,478.40 564.80,470.60 567.50,473.30 559.70,481.10" fill="#000" stroke="none" stroke-width="0"/>
<circle cx="567.50" cy="481.30" r="2.00" fill="#000" stroke="#000" stroke-width="0.0"/>
<polygon points="698.95,355.85 704.95,349.85 797.15,442.05 791.15,448.05" fill="#fff" stroke="none" stroke-width="0"/>
<line x1="698.95" y1="355.85" x2="791.15" y2="448.05" stroke="#000" stroke-width="1.44" stroke-linecap="butt"/>
<line x1="704.95" y1="349.85" x2="797.15" y2="442.05" stroke="#000" stroke-width="1.44" stroke-linecap="butt"/>
<polygon points="734.50,406.00 755.10,385.40 762.00,392.30 741.40,412.90" fill="#fff" stroke="none" stroke-width="0"/>
<line x1="734.45" y1="405.95" x2="741.35" y2="399.05" stroke="#000" stroke-width="1.44" stroke-linecap="butt"/>
<line x1="741.35" y1="412.85" x2="748.25" y2="405.95" stroke="#000" stroke-width="1.44" stroke-linecap="butt"/>
<line x1="748.15" y1="392.25" x2="755.05" y2="385.35" stroke="#000" stroke-width="1.44" stroke-linecap="butt"/>
<line x1="755.05" y1="399.15" x2="761.95" y2="392.25" stroke="#000" stroke-width="1.44" stroke-linecap="butt"/>
<line x1="734.45" y1="405.95" x2="741.35" y2="412.85" stroke="#000" stroke-width="1.25" stroke-linecap="butt"/>
<line x1="755.05" y1="385.35" x2="761.95" y2="392.25" stroke="#000" stroke-width="1.25" stroke-linecap="butt"/>
<line x1="740.65" y1="398.15" x2="741.75" y2="399.25" stroke="#000" stroke-width="1.44" stroke-linecap="butt"/>
<line x1="747.25" y1="391.55" x2="748.35" y2="392.65" stroke="#000" stroke-width="1.44" stroke-linecap="butt"/>
<line x1="748.05" y1="405.55" x2="749.15" y2="406.65" stroke="#000" stroke-width="1.44" stroke-linecap="butt"/>
<line x1="754.65" y1="398.95" x2="755.75" y2="400.05" stroke="#000" stroke-width="1.44" stroke-linecap="butt"/>
<path d="M743.65,402.95 Q745.45,396.15 751.65,394.75" fill="none" stroke="#000" stroke-width="2.5" stroke-linecap="round"/>
<circle cx="743.75" cy="403.65" r="2.00" fill="#000" stroke="#000" stroke-width="0.0"/>
<circle cx="752.65" cy="395.35" r="2.00" fill="#000" stroke="#000" stroke-width="0.0"/>
<rect x="-5.16" y="-8.41" width="10.32" height="16.83" rx="2.2" fill="#fff" stroke="#000" stroke-width="1.38" transform="translate(698.45,350.05) rotate(-45)"/>
<polygon points="687.95,347.45 695.75,339.65 698.45,342.35 690.65,350.15" fill="#000" stroke="none" stroke-width="0"/>
<circle cx="698.45" cy="350.35" r="2.00" fill="#000" stroke="#000" stroke-width="0.0"/>
<line x1="642.55" y1="568.75" x2="653.15" y2="558.15" stroke="#000" stroke-width="1.0" stroke-linecap="butt"/>
<path d="M629.8,644.2 L617.8,656.2 Q621.5,661.2 628,661.9 H636.4 V648.5 Q636,645 631.5,643.6 Z" fill="#fff" stroke="#000" stroke-width="1.38" stroke-linejoin="round"/>
<path d="M629.0,644.2 Q635.4,645.4 636.6,650.5" fill="none" stroke="#000" stroke-width="2.5" />
<path d="M618.2,656.6 Q622.5,661.6 630.5,661.8 H636.5" fill="none" stroke="#000" stroke-width="2.62" />
<circle cx="628.20" cy="653.80" r="2.60" fill="#000" stroke="#000" stroke-width="0.0"/>
<path d="M592,688.4 H609.4 V705.4 H576.5 L592,689.9 Z" fill="#fff" stroke="none" stroke-width="1.25" />
<path d="M597,688.4 H609.4 V705.2 H577" fill="none" stroke="#000" stroke-width="1.56" />
<line x1="577.00" y1="705.20" x2="609.60" y2="705.20" stroke="#000" stroke-width="2.12" stroke-linecap="butt"/>
<line x1="596.80" y1="686.60" x2="596.80" y2="705.00" stroke="#000" stroke-width="1.56" stroke-linecap="butt"/>
<line x1="600.70" y1="686.60" x2="600.70" y2="705.00" stroke="#000" stroke-width="1.56" stroke-linecap="butt"/>
<line x1="596.20" y1="686.90" x2="601.30" y2="686.90" stroke="#000" stroke-width="1.88" stroke-linecap="butt"/>
<path d="M593.5,690.5 Q589,691.5 587,695.5" fill="none" stroke="#000" stroke-width="1.25" />
<circle cx="586.20" cy="698.50" r="2.00" fill="#fff" stroke="#000" stroke-width="1.38"/>
<circle cx="581.80" cy="694.60" r="0.90" fill="#000" stroke="#000" stroke-width="0.0"/>
<rect x="589.60" y="706.20" width="16.60" height="4.40" fill="#000"/>
<circle cx="589.40" cy="726.80" r="13.80" fill="#fff" stroke="#000" stroke-width="1.62"/>
<circle cx="589.40" cy="727.40" r="7.30" fill="#fff" stroke="#000" stroke-width="1.62"/>
<path d="M571.6,713.2 Q574.5,716.3 580.5,715.4 L585.5,714.6 Q587,720 586.6,725 Q587.5,729.5 591.5,729.2 L605.6,710.5 L590,710.4 Q580,711 575,714.3 Z" fill="#fff" stroke="#000" stroke-width="1.5" stroke-linejoin="round"/>
<path d="M571.8,713.2 Q574.5,716.2 580.5,715.3" fill="none" stroke="#000" stroke-width="2.38" />
<circle cx="580.00" cy="711.60" r="1.10" fill="#000" stroke="#000" stroke-width="0.0"/>
<circle cx="589.40" cy="727.60" r="3.20" fill="#000" stroke="#000" stroke-width="0.0"/>
<line x1="589.40" y1="727.60" x2="594.47" y2="729.45" stroke="#000" stroke-width="1.12" stroke-linecap="butt"/>
<line x1="589.40" y1="727.60" x2="591.68" y2="732.49" stroke="#000" stroke-width="1.12" stroke-linecap="butt"/>
<line x1="589.40" y1="727.60" x2="587.55" y2="732.67" stroke="#000" stroke-width="1.12" stroke-linecap="butt"/>
<line x1="589.40" y1="727.60" x2="584.51" y2="729.88" stroke="#000" stroke-width="1.12" stroke-linecap="butt"/>
<line x1="589.40" y1="727.60" x2="584.33" y2="725.75" stroke="#000" stroke-width="1.12" stroke-linecap="butt"/>
<line x1="589.40" y1="727.60" x2="587.12" y2="722.71" stroke="#000" stroke-width="1.12" stroke-linecap="butt"/>
<line x1="589.40" y1="727.60" x2="591.25" y2="722.53" stroke="#000" stroke-width="1.12" stroke-linecap="butt"/>
<line x1="589.40" y1="727.60" x2="594.29" y2="725.32" stroke="#000" stroke-width="1.12" stroke-linecap="butt"/>
<line x1="589.40" y1="728.00" x2="589.40" y2="740.60" stroke="#000" stroke-width="1.0" stroke-linecap="butt"/>
<line x1="586.00" y1="740.40" x2="765.80" y2="740.40" stroke="#000" stroke-width="1.25" stroke-linecap="butt"/>
<path d="M651.95,627.63 L654.35,630.12 L656.70,632.66 L658.99,635.25 L661.23,637.89 L663.40,640.57 L665.52,643.30 L667.58,646.08 L669.58,648.90 L671.52,651.76 L673.40,654.66 L675.21,657.60 L676.96,660.59" fill="none" stroke="#fff" stroke-width="2.6"/>
<path d="M651.95,627.63 L654.35,630.12 L656.70,632.66 L658.99,635.25 L661.23,637.89 L663.40,640.57 L665.52,643.30 L667.58,646.08 L669.58,648.90 L671.52,651.76 L673.40,654.66 L675.21,657.60 L676.96,660.59" fill="none" stroke="#444" stroke-width="0.85"/>
<path d="M696.35,716.11 L696.90,720.04 L697.36,723.98 L697.72,727.94 L697.97,731.90 L698.14,735.87 L698.20,739.84" fill="none" stroke="#333" stroke-width="0.85"/>
<polygon points="651.60,627.40 658.08,631.59 655.47,634.07" fill="#111"/>
<polygon points="697.90,740.20 695.62,732.32 699.22,732.11" fill="#111"/>
<line x1="528.40" y1="713.50" x2="528.40" y2="807.50" stroke="#000" stroke-width="1.12" stroke-linecap="butt"/>
<line x1="992.50" y1="703.00" x2="992.50" y2="807.50" stroke="#333" stroke-width="1.0" stroke-linecap="butt"/>
<line x1="528.40" y1="794.30" x2="992.50" y2="794.30" stroke="#222" stroke-width="1.25" stroke-linecap="butt"/>
<polygon points="528.40,794.30 538.90,792.00 538.90,796.60" fill="#000"/>
<polygon points="992.50,794.30 982.00,796.60 982.00,792.00" fill="#000"/>
<circle cx="777.40" cy="785.40" r="28.40" fill="#fff" stroke="#000" stroke-width="1.56"/>
<text transform="translate(777.40,795.20) scale(0.98,1.02)" font-size="25.2" font-weight="bold" text-anchor="middle">C</text>
</g>
<g id="table-grid" stroke="#505050" stroke-width="1.4" fill="none">
<path d="M55.7,864.4V1015.9 M155.7,864.4V1015.9 M450.9,864.4V1015.9 M687.6,864.4V1015.9"/>
<path d="M55,865.1H688.3 M55,890.15H688.3 M55,915.15H688.3 M55,940.2H688.3 M55,965.2H688.3 M55,990.2H688.3 M55,1015.2H688.3"/>
</g>
</svg>
<table>
<colgroup><col style="width:100px"><col style="width:295.3px"><col style="width:236.7px"></colgroup>
<tr><td><div>A</div></td><td><div>svislá výška :</div></td><td><div>2500 mm</div></td></tr>
<tr><td><div>B</div></td><td><div>Sklon :</div></td><td><div>60 °</div></td></tr>
<tr><td><div>C</div></td><td><div>vyložení :</div></td><td><div>2064 mm</div></td></tr>
<tr><td><div>D</div></td><td><div>šířka stupňů :</div></td><td><div>600 mm</div></td></tr>
<tr><td><div>E</div></td><td><div>délka plošiny :</div></td><td><div>600 mm</div></td></tr>
<tr><td><div>F</div></td><td><div>šířka pojezdu:</div></td><td><div>1200 mm</div></td></tr>
</table>
</body></html>
